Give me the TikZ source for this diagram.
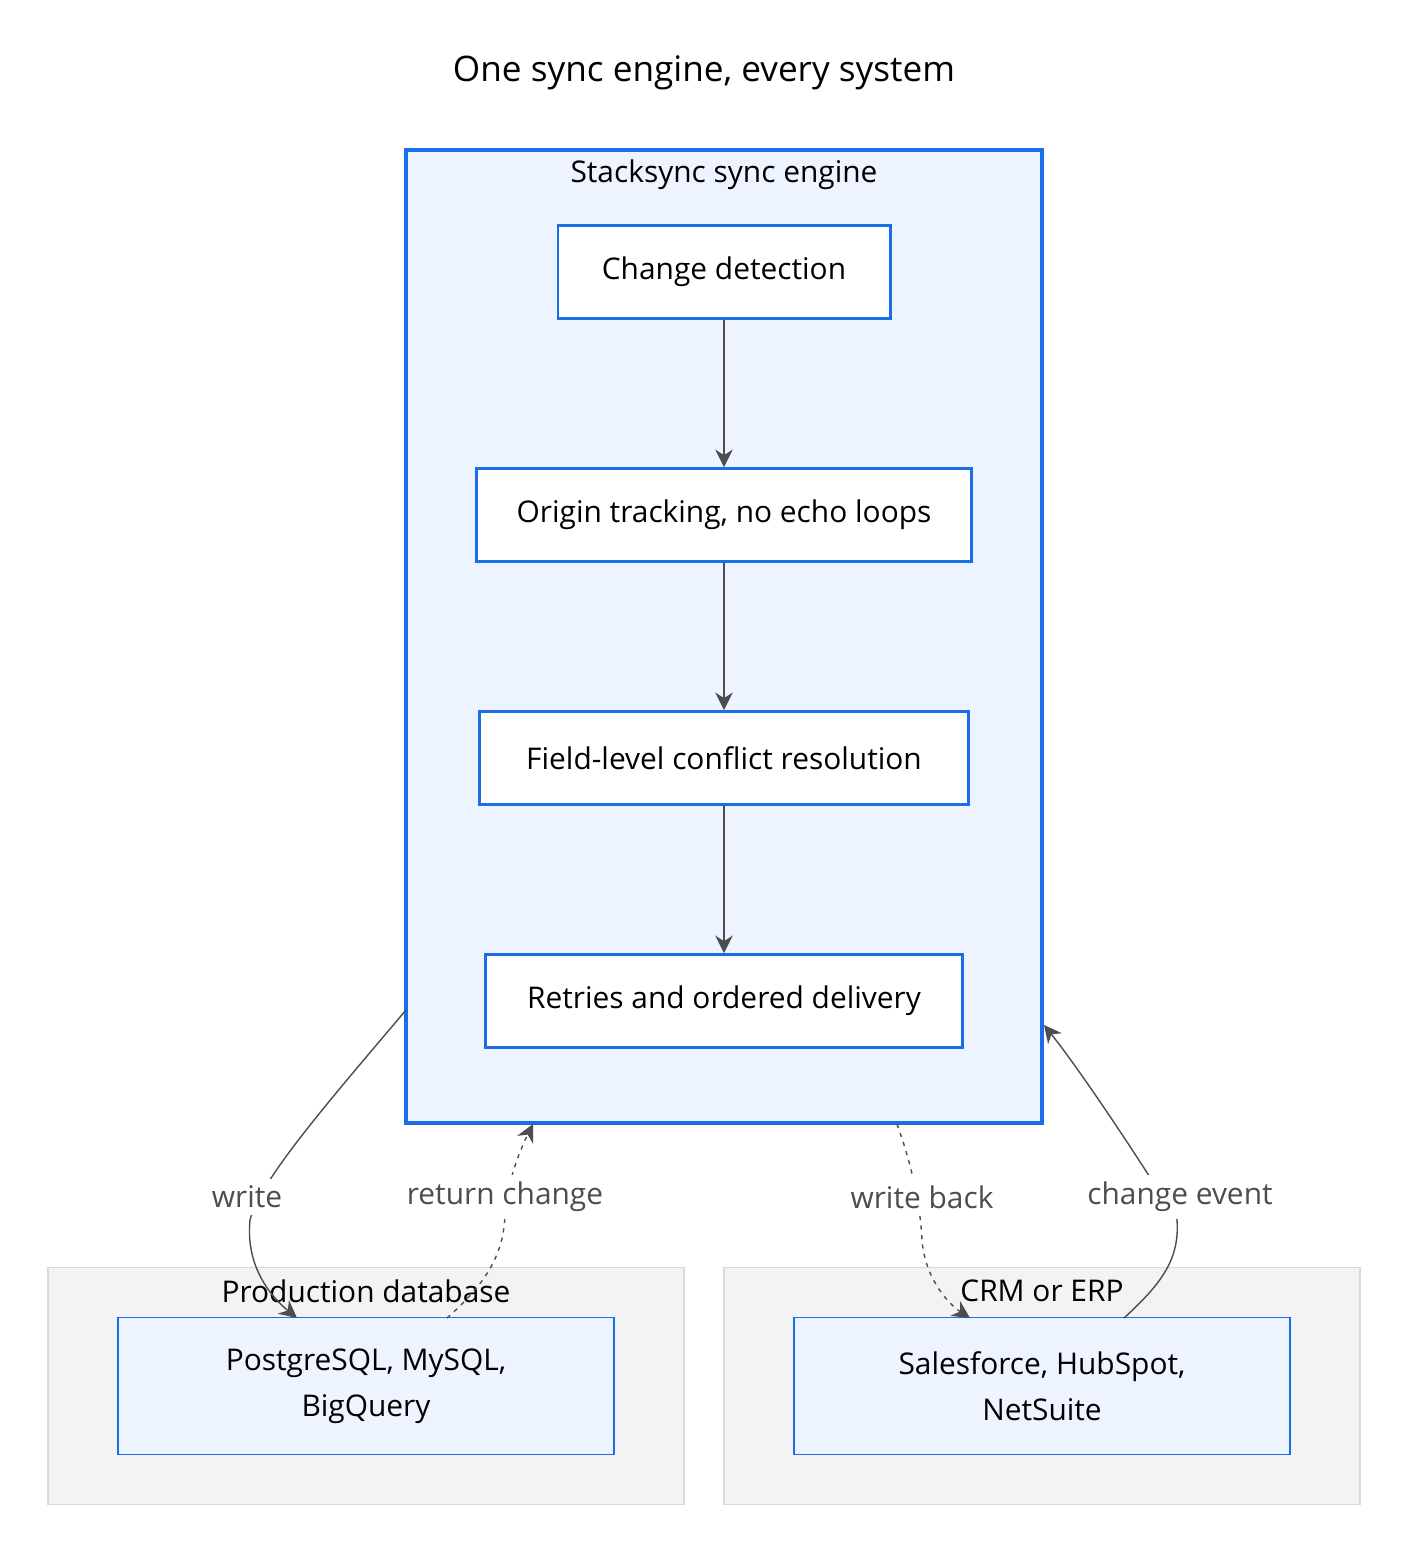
\documentclass[tikz,border=0pt]{standalone}
\usepackage{fontspec}
\setmainfont{Open Sans}
\usetikzlibrary{arrows.meta}
\definecolor{engblue}{HTML}{1A6FE8}
\definecolor{engfill}{HTML}{EEF4FF}
\definecolor{grpfill}{HTML}{F3F3F3}
\definecolor{grpline}{HTML}{D9D9D9}
\definecolor{edgegray}{HTML}{4D4D4D}
\tikzset{
  stage/.style={draw=engblue,thick,fill=white,minimum height=0.93cm,inner sep=0pt,font=\fontsize{8.5}{11}\selectfont},
  sys/.style={draw=engblue,fill=engfill,minimum width=4.96cm,minimum height=1.37cm,inner sep=0pt,align=center,font=\fontsize{8.5}{13}\selectfont},
  grp/.style={draw=grpline,fill=grpfill,minimum width=6.36cm,minimum height=2.37cm},
  lbl/.style={fill=white,inner sep=2pt,text=edgegray,font=\fontsize{8.5}{11}\selectfont},
  flow/.style={draw=edgegray,-{Stealth[length=5pt,width=5pt]}},
  back/.style={flow,dash pattern=on 1.2pt off 1.5pt}
}
\begin{document}
\begin{tikzpicture}[x=0.01cm,y=-0.01cm]
\useasboundingbox (0,0) rectangle (1408,1554);
\node[font=\fontsize{10}{12}\selectfont] (title) at (704,73) {One sync engine, every system};
% engine cluster
\node[draw=engblue,line width=1.1pt,fill=engfill,minimum width=6.36cm,minimum height=9.73cm] (engine) at (724,636.5) {};
\node[font=\fontsize{8.5}{11}\selectfont] (englbl) at (724,175) {Stacksync sync engine};
\node[stage,minimum width=3.32cm] (detect) at (724,272) {Change detection};
\node[stage,minimum width=4.95cm] (origin) at (724,515) {Origin tracking, no echo loops};
\node[stage,minimum width=4.88cm] (field) at (724,758) {Field-level conflict resolution};
\node[stage,minimum width=4.77cm] (retry) at (724,1001) {Retries and ordered delivery};
\draw[flow] (detect) -- (origin);
\draw[flow] (origin) -- (field);
\draw[flow] (field) -- (retry);
% systems
\node[grp] (dbgrp) at (366,1386) {};
\node[grp] (crmgrp) at (1042,1386) {};
\node[sys] (db) at (366,1386) {PostgreSQL, MySQL,\\BigQuery};
\node[sys] (crm) at (1042,1386) {Salesforce, HubSpot,\\NetSuite};
\node[font=\fontsize{8.5}{11}\selectfont] (dbtitle) at (366,1291) {Production database};
\node[font=\fontsize{8.5}{11}\selectfont] (crmtitle) at (1042,1291) {CRM or ERP};
% edges
\coordinate (w0) at (406,1010);
\coordinate (r1) at (533,1124);
\coordinate (b0) at (897,1124);
\coordinate (c1) at (1044,1025);
\draw[flow] (w0) .. controls (330,1100) and (260,1180) .. (250,1220) .. controls (245,1270) and (275,1300) .. (297,1318);
\draw[back] (447,1318) .. controls (490,1280) and (505,1250) .. (505,1210) .. controls (510,1170) and (525,1140) .. (r1);
\draw[back] (b0) .. controls (910,1160) and (920,1200) .. (922,1240) .. controls (925,1280) and (950,1305) .. (970,1318);
\draw[flow] (1124,1318) .. controls (1160,1285) and (1180,1260) .. (1177,1220) .. controls (1140,1160) and (1080,1070) .. (c1);
\node[lbl] (wlbl) at (247,1197) {write};
\node[lbl] (rlbl) at (505,1197) {return change};
\node[lbl] (blbl) at (922,1197) {write back};
\node[lbl] (clbl) at (1180,1197) {change event};
\end{tikzpicture}
\end{document}
